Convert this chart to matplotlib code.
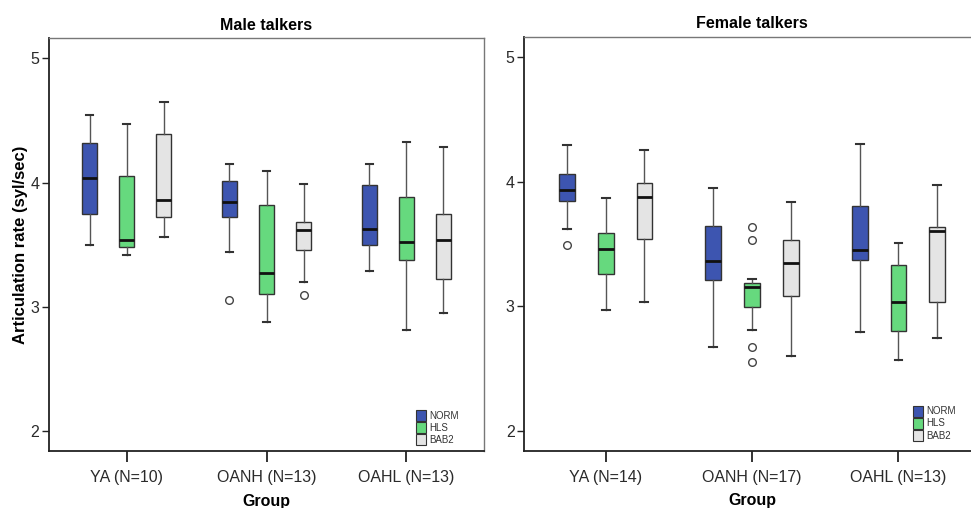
import matplotlib
matplotlib.use("Agg")
import matplotlib.pyplot as plt
from matplotlib.patches import Patch

plt.rcParams['font.family'] = ['Liberation Sans', 'DejaVu Sans']

groups_male = ["YA (N=10)", "OANH (N=13)", "OAHL (N=13)"]
groups_female = ["YA (N=14)", "OANH (N=17)", "OAHL (N=13)"]
conditions = ["NORM", "HLS", "BAB2"]
colors = ["#3D55B0", "#66D97E", "#E4E4E4"]

# Male talkers: per condition, values across groups (YA, OANH, OAHL)
male_whislo = {"NORM": [3.50, 3.44, 3.29], "HLS": [3.42, 2.88, 2.81], "BAB2": [3.56, 3.20, 2.95]}
male_q1 = {"NORM": [3.75, 3.72, 3.50], "HLS": [3.485, 3.10, 3.38], "BAB2": [3.72, 3.46, 3.22]}
male_med = {"NORM": [4.04, 3.84, 3.63], "HLS": [3.54, 3.27, 3.525], "BAB2": [3.86, 3.62, 3.54]}
male_q3 = {"NORM": [4.315, 4.015, 3.98], "HLS": [4.055, 3.82, 3.88], "BAB2": [4.39, 3.685, 3.75]}
male_whishi = {"NORM": [4.54, 4.15, 4.15], "HLS": [4.475, 4.09, 4.33], "BAB2": [4.65, 3.99, 4.29]}
male_fliers = {"NORM": [[], [3.056], []], "HLS": [[], [], []], "BAB2": [[], [3.096], []]}

# Female talkers
female_whislo = {"NORM": [3.62, 2.67, 2.79], "HLS": [2.97, 2.81, 2.565], "BAB2": [3.03, 2.60, 2.745]}
female_q1 = {"NORM": [3.846, 3.21, 3.37], "HLS": [3.26, 2.995, 2.80], "BAB2": [3.54, 3.085, 3.03]}
female_med = {"NORM": [3.93, 3.364, 3.45], "HLS": [3.458, 3.15, 3.034], "BAB2": [3.874, 3.348, 3.60]}
female_q3 = {"NORM": [4.06, 3.643, 3.80], "HLS": [3.584, 3.187, 3.332], "BAB2": [3.99, 3.53, 3.637]}
female_whishi = {"NORM": [4.294, 3.946, 4.30], "HLS": [3.868, 3.219, 3.508], "BAB2": [4.25, 3.833, 3.97]}
female_fliers = {"NORM": [[3.49], [], []], "HLS": [[], [3.637, 3.53, 2.672, 2.549], []], "BAB2": [[], [], []]}

yticks = [2, 3, 4, 5]

fig = plt.figure(figsize=(9.71, 5.08), dpi=100)
ax1 = fig.add_axes([0.0505, 0.1122, 0.448, 0.813])
ax2 = fig.add_axes([0.540, 0.1128, 0.469, 0.8152])

offsets = [-0.265, 0.0, 0.265]
bw = 0.108


def draw(ax, groups, wlo, q1, med, q3, whi, fl, title, ylabel):
    for ci, cond in enumerate(conditions):
        stats = []
        for gi in range(len(groups)):
            stats.append(dict(med=med[cond][gi], q1=q1[cond][gi], q3=q3[cond][gi],
                              whislo=wlo[cond][gi], whishi=whi[cond][gi],
                              fliers=fl[cond][gi]))
        pos = [gi + offsets[ci] for gi in range(len(groups))]
        ax.bxp(stats, positions=pos, widths=bw, patch_artist=True, manage_ticks=False,
               boxprops=dict(facecolor=colors[ci], edgecolor="#333333", linewidth=1.0),
               medianprops=dict(color="#111111", linewidth=2.0),
               whiskerprops=dict(color="#555555", linewidth=1.0),
               capprops=dict(color="#333333", linewidth=1.5),
               flierprops=dict(marker="o", markersize=5.5, markerfacecolor="white",
                               markeredgecolor="#444444", markeredgewidth=1.0))
    ax.set_xlim(-0.555, 2.555)
    ax.set_ylim(1.84, 5.163)
    ax.set_xticks(range(len(groups)))
    ax.set_xticklabels(groups, fontsize=11.5, color="#2a2a2a")
    ax.set_yticks(yticks)
    ax.set_yticklabels([str(t) for t in yticks], fontsize=11.5, color="#2a2a2a")
    ax.tick_params(axis="x", direction="out", length=8, width=1.3, pad=6, color="#222222")
    ax.tick_params(axis="y", direction="out", length=5, width=1.0, pad=2, color="#222222")
    ax.set_title(title, fontsize=11.5, fontweight="bold", pad=6)
    ax.set_xlabel("Group", fontsize=11.5, fontweight="bold", labelpad=6)
    if ylabel:
        ax.set_ylabel(ylabel, fontsize=12, fontweight="bold", labelpad=2)
    for s in ["left", "bottom"]:
        ax.spines[s].set_color("#222222")
        ax.spines[s].set_linewidth(1.3)
    for s in ["top", "right"]:
        ax.spines[s].set_color("#777777")
        ax.spines[s].set_linewidth(1.0)
    handles = [Patch(facecolor=colors[i], edgecolor="#333333", linewidth=0.8, label=c)
               for i, c in enumerate(conditions)]
    leg = ax.legend(handles=handles, loc="lower right", frameon=False, fontsize=7,
                    handlelength=1.1, handleheight=1.35, handletextpad=0.3,
                    labelspacing=0.12, borderaxespad=0.2)
    for t in leg.get_texts():
        t.set_color("#333333")
    return leg


leg1 = draw(ax1, groups_male, male_whislo, male_q1, male_med, male_q3, male_whishi, male_fliers,
            "Male talkers", "Articulation rate (syl/sec)")
leg1.set_bbox_to_anchor((0.955, 0.0), transform=ax1.transAxes)
leg2 = draw(ax2, groups_female, female_whislo, female_q1, female_med, female_q3, female_whishi,
            female_fliers, "Female talkers", None)
leg2.set_bbox_to_anchor((0.96, 0.01), transform=ax2.transAxes)

fig.savefig("out.png", dpi=100)
